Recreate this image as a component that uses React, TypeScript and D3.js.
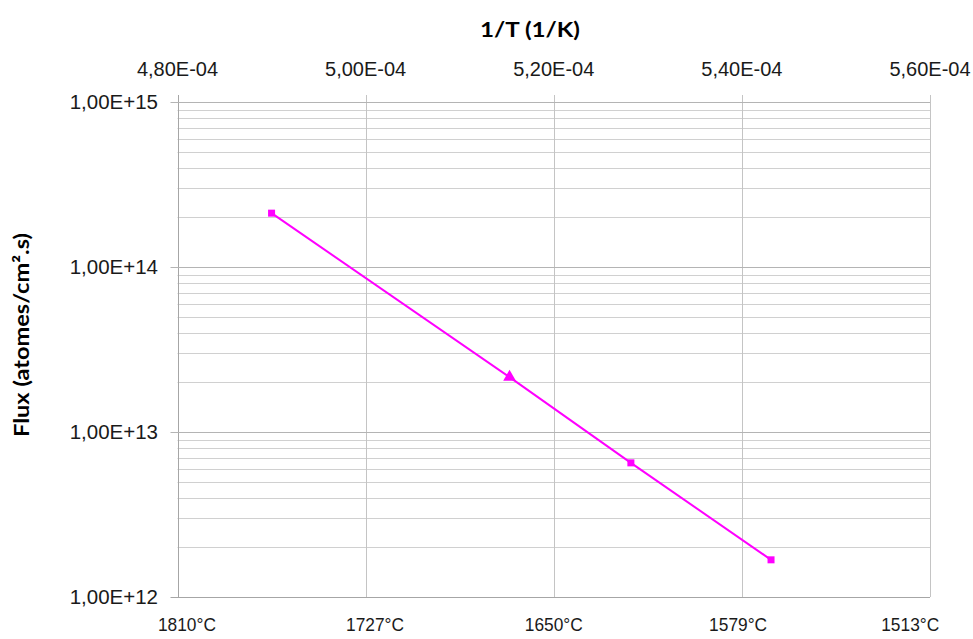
import React, { useEffect, useRef } from "react";
import * as d3 from "d3";

// values
const invT = [4.9e-4, 5.153e-4, 5.282e-4, 5.431e-4];
const flux = [2.12e14, 2.15e13, 6.5e12, 1.68e12];
const markerShapes = ["square", "triangle", "square", "square"];

const topTicks = [4.8e-4, 5.0e-4, 5.2e-4, 5.4e-4, 5.6e-4];
const topTickLabels = ["4,80E-04", "5,00E-04", "5,20E-04", "5,40E-04", "5,60E-04"];

const yTicks = [1e12, 1e13, 1e14, 1e15];
const yTickLabels = ["1,00E+12", "1,00E+13", "1,00E+14", "1,00E+15"];

const celsiusLabels = ["1810°C", "1727°C", "1650°C", "1579°C", "1513°C"];
const celsiusPos = [4.81e-4, 5.01e-4, 5.2e-4, 5.396e-4, 5.579e-4];

export default function App() {
  const ref = useRef<SVGSVGElement>(null);

  useEffect(() => {
    const plot = { left: 177.5, right: 930, top: 102, bottom: 597 };

    const svg = d3.select(ref.current);
    svg.selectAll("*").remove();

    const x = d3.scaleLinear().domain([4.8e-4, 5.6e-4]).range([plot.left, plot.right]);
    const y = d3.scaleLog().domain([1e12, 1e15]).range([plot.bottom, plot.top]);

    // minor horizontal gridlines (2..9 in each decade)
    const minor: number[] = [];
    for (let e = 12; e < 15; e++) {
      for (let m = 2; m <= 9; m++) minor.push(m * Math.pow(10, e));
    }
    svg
      .append("g")
      .selectAll("line")
      .data(minor)
      .enter()
      .append("line")
      .attr("x1", plot.left)
      .attr("x2", plot.right)
      .attr("y1", (d) => Math.round(y(d)) + 0.5)
      .attr("y2", (d) => Math.round(y(d)) + 0.5)
      .attr("stroke", "#d0d0d0")
      .attr("stroke-width", 1);

    // vertical gridlines + top ticks
    svg
      .append("g")
      .selectAll("line")
      .data(topTicks)
      .enter()
      .append("line")
      .attr("x1", (d) => Math.round(x(d)) + 0.5)
      .attr("x2", (d) => Math.round(x(d)) + 0.5)
      .attr("y1", plot.top - 7)
      .attr("y2", plot.bottom)
      .attr("stroke", (d, i) => (i === 0 ? "#a6a6a6" : "#c4c4c4"))
      .attr("stroke-width", 1);

    // major horizontal gridlines + left ticks
    svg
      .append("g")
      .selectAll("line")
      .data(yTicks)
      .enter()
      .append("line")
      .attr("x1", plot.left - 7)
      .attr("x2", plot.right)
      .attr("y1", (d) => Math.round(y(d)) + 0.5)
      .attr("y2", (d) => Math.round(y(d)) + 0.5)
      .attr("stroke", (d, i) => (i === 0 ? "#a6a6a6" : "#b4b4b4"))
      .attr("stroke-width", 1);

    // y tick labels
    svg
      .append("g")
      .selectAll("text")
      .data(yTicks)
      .enter()
      .append("text")
      .attr("x", 158)
      .attr("y", (d) => y(d))
      .attr("dy", "0.36em")
      .attr("text-anchor", "end")
      .attr("font-family", "'Liberation Sans', Arial, sans-serif")
      .attr("font-size", 20.5)
      .attr("fill", "#1a1a1a")
      .text((d, i) => yTickLabels[i]);

    // top tick labels
    svg
      .append("g")
      .selectAll("text")
      .data(topTicks)
      .enter()
      .append("text")
      .attr("x", (d) => x(d))
      .attr("y", 76)
      .attr("text-anchor", "middle")
      .attr("font-family", "'Liberation Sans', Arial, sans-serif")
      .attr("font-size", 20)
      .attr("fill", "#1a1a1a")
      .text((d, i) => topTickLabels[i]);

    // bottom celsius labels
    svg
      .append("g")
      .selectAll("text")
      .data(celsiusPos)
      .enter()
      .append("text")
      .attr("x", (d) => x(d))
      .attr("y", 631)
      .attr("text-anchor", "middle")
      .attr("font-family", "'Liberation Sans', Arial, sans-serif")
      .attr("font-size", 19)
      .attr("textLength", 58)
      .attr("lengthAdjust", "spacingAndGlyphs")
      .attr("fill", "#1a1a1a")
      .text((d, i) => celsiusLabels[i]);

    // axis titles
    svg
      .append("text")
      .attr("x", 530)
      .attr("y", 37)
      .attr("text-anchor", "middle")
      .attr("font-family", "Lato, 'Open Sans', sans-serif")
      .attr("font-weight", "bold")
      .attr("font-size", 21)
      .attr("textLength", 100)
      .attr("lengthAdjust", "spacingAndGlyphs")
      .attr("fill", "#000")
      .text("1/T (1/K)");

    svg
      .append("text")
      .attr("transform", "translate(29, 335) rotate(-90)")
      .attr("text-anchor", "middle")
      .attr("font-family", "Lato, 'Open Sans', sans-serif")
      .attr("font-weight", "bold")
      .attr("font-size", 21)
      .attr("textLength", 204)
      .attr("lengthAdjust", "spacingAndGlyphs")
      .attr("fill", "#000")
      .text("Flux (atomes/cm².s)");

    // series line
    const pts = invT.map((v, i) => [x(v), y(flux[i])] as [number, number]);
    svg
      .append("path")
      .attr("d", d3.line()(pts))
      .attr("fill", "none")
      .attr("stroke", "#ff00ff")
      .attr("stroke-width", 2);

    // markers
    const sq = d3.symbol().type(d3.symbolSquare).size(49);
    const tri = d3.symbol().type(d3.symbolTriangle).size(70);
    svg
      .append("g")
      .selectAll("path")
      .data(pts)
      .enter()
      .append("path")
      .attr("transform", (d) => `translate(${d[0]}, ${d[1]})`)
      .attr("d", (d, i) => (markerShapes[i] === "triangle" ? tri() : sq()))
      .attr("fill", "#ff00ff");
  }, []);

  return (
    <svg
      ref={ref}
      width={973}
      height={639}
      style={{ position: "absolute", left: 0, top: 0, background: "#fff" }}
    ></svg>
  );
}
